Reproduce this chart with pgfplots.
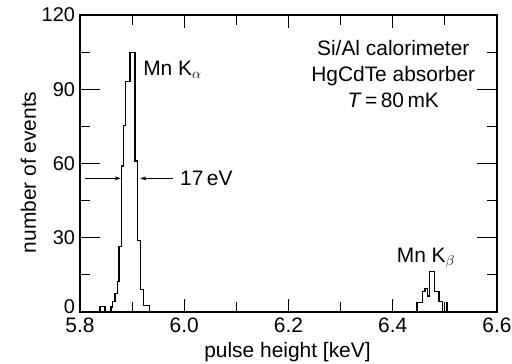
\documentclass[border=0pt]{standalone}
\usepackage{fontspec}
\setmainfont{Liberation Sans}
\usepackage{pgfplots}
\pgfplotsset{compat=1.18}
\usetikzlibrary{arrows.meta}
\newcommand{\bigf}{\fontsize{21}{25}\selectfont}
\newcommand{\tickf}{\fontsize{20}{24}\selectfont}
\begin{document}
\begin{tikzpicture}
\begin{axis}[
  scale only axis, width=417bp, height=297bp,
  at={(0,0)}, anchor=south west,
  xmin=5.8, xmax=6.6, ymin=0, ymax=120,
  xtick={5.8,6.0,6.2,6.4,6.6}, minor xtick={5.9,6.1,6.3,6.5},
  ytick={30,60,90,120}, minor ytick={15,45,75,105},
  extra y ticks={0},
  extra y tick style={yticklabel style={yshift=5bp}},
  tick align=inside, major tick length=13bp, minor tick length=10bp,
  tick style={line width=1.2bp, black},
  axis line style={line width=1.3bp},
  xtick pos=both, ytick pos=both,
  /pgf/number format/assume math mode=true,
  xticklabel style={font=\bigf, yshift=-2.5bp, /pgf/number format/.cd, fixed, fixed zerofill, precision=1},
  yticklabel style={font=\tickf, xshift=-1.5bp},
  label style={font=\bigf},
  xlabel={pulse height [keV]},
  ylabel={number of events},
  xlabel style={at={(axis description cs:0.4976,-0.134)}, anchor=center},
  ylabel style={at={(axis description cs:-0.124,0.47)}, anchor=center},
  clip=false,
]
\addplot[const plot mark left, line width=1.2bp, black] coordinates {
(5.800,0) (5.8385,2.2) (5.848,0) (5.8595,2) (5.862,4.2) (5.867,7.6) (5.8725,12.2)
(5.875,26.5) (5.880,59) (5.883,75.5) (5.8875,93) (5.896,105) (5.9055,61)
(5.911,29) (5.916,9) (5.922,2.6) (5.934,0) (6.4465,0)
(6.4465,3.9) (6.4565,8.2) (6.462,9.5) (6.4667,6.5) (6.4705,16.5) (6.4805,8.2)
(6.4887,4.2) (6.4958,0) (6.5025,3.9) (6.5055,0) (6.6,0)
};
\node[anchor=base west, font=\bigf, inner sep=0pt] at (axis cs:5.921,95.6) {Mn K$_{\alpha}$};
\node[anchor=base west, font=\bigf, inner sep=0pt] at (axis cs:6.4075,20.2) {Mn K$_{\beta}$};
\node[font=\bigf, align=center, inner sep=0pt] at (axis cs:6.401,96.2) {Si/Al calorimeter\\[1bp]HgCdTe absorber\\[1bp]\textit{T}\,=\,80\,mK};
\draw[-{Stealth[length=6bp,width=4bp]}, line width=0.9bp] (axis cs:5.8096,54.0) -- (axis cs:5.878,54.0);
\draw[-{Stealth[length=6bp,width=4bp]}, line width=0.9bp] (axis cs:5.9785,54.0) -- (axis cs:5.9157,54.0);
\node[anchor=base west, font=\bigf, inner sep=0pt] at (axis cs:5.9918,51.0) {17\,eV};
\end{axis}
\begin{axis}[
  scale only axis, width=417bp, height=297bp,
  at={(0,0)}, anchor=south west,
  xmin=5.8, xmax=6.6, ymin=0, ymax=120,
  xtick=\empty, ytick={30,60,90}, yticklabels={},
  tick align=inside, major tick length=20bp,
  tick style={line width=1.2bp, black},
  axis line style={draw=none},
  ytick pos=both,
]
\end{axis}
\pgfresetboundingbox
\useasboundingbox (-80bp,-52bp) rectangle (432bp,312bp);
\end{tikzpicture}
\end{document}
